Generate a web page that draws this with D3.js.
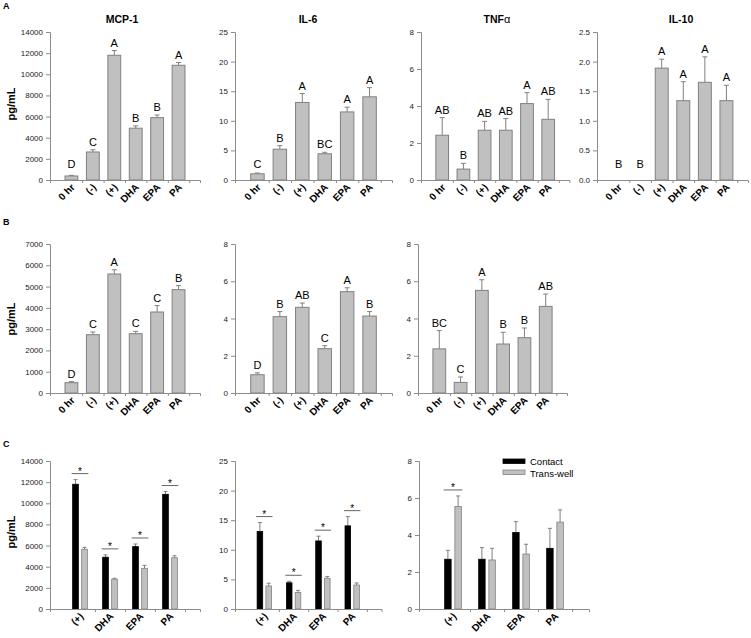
<!DOCTYPE html>
<html><head><meta charset="utf-8">
<script src="https://cdn.jsdelivr.net/npm/d3@7"></script>
<style>
body{margin:0;background:#fff;}
svg{display:block;font-family:"Liberation Sans",Arial,sans-serif;}
</style></head>
<body>
<svg id="c" width="751" height="638"></svg>
<script>
// ---------- DATA ----------
const catsAll = ["0 hr", "(-)", "(+)", "DHA", "EPA", "PA"];
const catsC = ["(+)", "DHA", "EPA", "PA"];

// Row A (Contact)
const mcpA = [380, 2650, 11800, 4900, 5900, 10850];
const mcpAErr = [60, 210, 440, 220, 250, 260];
const mcpALet = ["D", "C", "A", "B", "B", "A"];
const il6A = [1.05, 5.2, 13.1, 4.43, 11.5, 14.05];
const il6AErr = [0.12, 0.6, 1.5, 0.25, 0.8, 1.55];
const il6ALet = ["C", "B", "A", "BC", "A", "A"];
const tnfA = [2.42, 0.59, 2.69, 2.69, 4.13, 3.28];
const tnfAErr = [0.95, 0.31, 0.48, 0.63, 0.59, 1.08];
const tnfALet = ["AB", "B", "AB", "AB", "A", "AB"];
const il10A = [0, 0, 1.89, 1.34, 1.65, 1.34];
const il10AErr = [0, 0, 0.15, 0.32, 0.43, 0.26];
const il10ALet = ["B", "B", "A", "A", "A", "A"];

// Row B (Trans-well)
const mcpB = [485, 2740, 5590, 2787, 3805, 4854];
const mcpBErr = [50, 125, 200, 110, 300, 190];
const mcpBLet = ["D", "C", "A", "C", "C", "B"];
const il6B = [0.98, 4.1, 4.6, 2.38, 5.44, 4.13];
const il6BErr = [0.1, 0.27, 0.23, 0.16, 0.21, 0.24];
const il6BLet = ["D", "B", "AB", "C", "A", "B"];
const tnfB = [2.37, 0.57, 5.51, 2.63, 2.97, 4.65];
const tnfBErr = [0.98, 0.29, 0.57, 0.63, 0.52, 0.66];
const tnfBLet = ["BC", "C", "A", "B", "B", "AB"];

// Row C: Contact vs Trans-well
const mcpCContact = [11800, 4900, 5900, 10850];
const mcpCContactErr = [440, 220, 250, 260];
const mcpCTrans = [5650, 2820, 3850, 4850];
const mcpCTransErr = [180, 90, 280, 190];
const mcpSig = [1, 1, 1, 1];
const il6CContact = [13.1, 4.43, 11.5, 14.05];
const il6CContactErr = [1.5, 0.25, 0.8, 1.55];
const il6CTrans = [3.9, 2.8, 5.2, 4.05];
const il6CTransErr = [0.45, 0.35, 0.3, 0.35];
const il6Sig = [1, 1, 1, 1];
const tnfCContact = [2.69, 2.69, 4.13, 3.28];
const tnfCContactErr = [0.48, 0.63, 0.59, 1.08];
const tnfCTrans = [5.54, 2.65, 2.97, 4.7];
const tnfCTransErr = [0.57, 0.63, 0.53, 0.66];
const tnfSig = [1, 0, 0, 0];

const seriesNames = ["Contact", "Trans-well"];
// ---------- STYLE ----------
const GRAY = "#c0c0c0", GRAYLINE = "#808080", AXIS = "#8c8c8c", BLACK = "#000";

const svg = d3.select("#c");

function yAxis(g, y, x0, max, step, fmt) {
  const ax = d3.axisLeft(y).tickValues(d3.range(0, max + step / 2, step))
    .tickSize(4).tickPadding(3).tickFormat(d3.format(fmt));
  const a = g.append("g").attr("transform", `translate(${x0},0)`).call(ax);
  a.select(".domain").attr("stroke", AXIS);
  a.selectAll(".tick line").attr("stroke", AXIS);
  a.selectAll(".tick text").attr("font-size", 8).attr("fill", "#222")
    .attr("font-family", "Liberation Sans, Arial, sans-serif");
}

function xBase(g, x, bottom, n) {
  const ax = d3.axisBottom(x).tickValues(d3.range(1.5, n + 1, 1)).tickSize(3).tickFormat("");
  const a = g.append("g").attr("transform", `translate(0,${bottom})`).call(ax);
  a.select(".domain").attr("stroke", AXIS);
  a.selectAll(".tick line").attr("stroke", AXIS);
}

function xLabels(g, x, bottom, cats) {
  g.selectAll(null).data(cats).enter().append("text")
    .attr("transform", (d, i) => `translate(${x(i + 1) + 4},${bottom + 8}) rotate(-45)`)
    .attr("text-anchor", "end").attr("font-size", 10).attr("font-weight", "bold")
    .text(d => d);
}

function panelSingle(p) {
  const g = svg.append("g");
  const n = p.cats.length;
  const x = d3.scaleLinear().domain([0, n + 1]).range([p.x0, p.x0 + p.w]);
  const y = d3.scaleLinear().domain([0, p.max]).range([p.bottom, p.top]);
  const step = x(1) - x(0), bw = step * 0.6;
  const data = p.cats.map((c, i) => ({c, i, v: p.vals[i], e: p.errs[i], l: p.lets[i]}));
  const eb = g.selectAll(null).data(data.filter(d => d.v > 0)).enter();
  eb.append("line").attr("x1", d => x(d.i + 1)).attr("x2", d => x(d.i + 1))
    .attr("y1", d => y(d.v)).attr("y2", d => y(d.v + d.e)).attr("stroke", GRAYLINE);
  eb.append("line").attr("x1", d => x(d.i + 1) - 2.5).attr("x2", d => x(d.i + 1) + 2.5)
    .attr("y1", d => y(d.v + d.e)).attr("y2", d => y(d.v + d.e)).attr("stroke", GRAYLINE);
  g.selectAll(null).data(data.filter(d => d.v > 0)).enter().append("rect")
    .attr("x", d => x(d.i + 1) - bw / 2).attr("width", bw)
    .attr("y", d => y(d.v)).attr("height", d => y(0) - y(d.v))
    .attr("fill", GRAY).attr("stroke", GRAYLINE).attr("stroke-width", 1);
  g.selectAll(null).data(data).enter().append("text")
    .attr("x", d => x(d.i + 1)).attr("y", d => Math.min(y(d.v + d.e) - 4, p.bottom - 12))
    .attr("text-anchor", "middle").attr("font-size", 11).text(d => d.l);
  yAxis(g, y, p.x0, p.max, p.step, p.fmt);
  xBase(g, x, p.bottom, n);
  xLabels(g, x, p.bottom, p.cats);
  if (p.title) {
    const t = g.append("text").attr("x", p.tx).attr("y", p.top - 9)
      .attr("text-anchor", "middle").attr("font-size", 10.5).attr("font-weight", "bold");
    t.append("tspan").text(p.title);
    if (p.titleGreek) t.append("tspan").attr("font-weight", "normal").attr("font-size", 11).text(p.titleGreek);
  }
}

function panelPair(p) {
  const g = svg.append("g");
  const n = p.cats.length;
  const x = d3.scaleLinear().domain([0, n + 1]).range([p.x0, p.x0 + p.w]);
  const y = d3.scaleLinear().domain([0, p.max]).range([p.bottom, p.top]);
  const step = x(1) - x(0), bw = step * 0.19, off = step * 0.15;
  const series = [
    {vals: p.a, errs: p.aErr, fill: BLACK, stroke: BLACK, dx: -off},
    {vals: p.b, errs: p.bErr, fill: GRAY, stroke: GRAYLINE, dx: off}
  ];
  series.forEach(s => {
    const data = p.cats.map((c, i) => ({i, v: s.vals[i], e: s.errs[i]}));
    const eb = g.selectAll(null).data(data).enter();
    eb.append("line").attr("x1", d => x(d.i + 1) + s.dx).attr("x2", d => x(d.i + 1) + s.dx)
      .attr("y1", d => y(d.v)).attr("y2", d => y(d.v + d.e)).attr("stroke", GRAYLINE);
    eb.append("line").attr("x1", d => x(d.i + 1) + s.dx - 2).attr("x2", d => x(d.i + 1) + s.dx + 2)
      .attr("y1", d => y(d.v + d.e)).attr("y2", d => y(d.v + d.e)).attr("stroke", GRAYLINE);
    g.selectAll(null).data(data).enter().append("rect")
      .attr("x", d => x(d.i + 1) + s.dx - bw / 2).attr("width", bw)
      .attr("y", d => y(d.v)).attr("height", d => y(0) - y(d.v))
      .attr("fill", s.fill).attr("stroke", s.stroke).attr("stroke-width", 0.8);
  });
  const sig = p.cats.map((c, i) => ({i, s: p.sig[i],
    top: Math.min(y(p.a[i] + p.aErr[i]), y(p.b[i] + p.bErr[i]))})).filter(d => d.s);
  g.selectAll(null).data(sig).enter().append("line")
    .attr("x1", d => x(d.i + 1) - off - bw / 2 - 1).attr("x2", d => x(d.i + 1) + off + bw / 2 + 1)
    .attr("y1", d => d.top - 6).attr("y2", d => d.top - 6).attr("stroke", "#666");
  g.selectAll(null).data(sig).enter().append("text")
    .attr("x", d => x(d.i + 1)).attr("y", d => d.top - 5)
    .attr("text-anchor", "middle").attr("font-size", 10).text("*");
  yAxis(g, y, p.x0, p.max, p.step, p.fmt);
  xBase(g, x, p.bottom, n);
  xLabels(g, x, p.bottom, p.cats);
}

const A = {top: 32, bottom: 180}, B = {top: 244, bottom: 393}, C = {top: 461, bottom: 609};

panelSingle({...A, x0: 50, w: 150, max: 14000, step: 2000, fmt: "d", cats: catsAll,
  vals: mcpA, errs: mcpAErr, lets: mcpALet, title: "MCP-1", tx: 122});
panelSingle({...A, x0: 235, w: 157, max: 25, step: 5, fmt: "d", cats: catsAll,
  vals: il6A, errs: il6AErr, lets: il6ALet, title: "IL-6", tx: 308});
panelSingle({...A, x0: 421, w: 148.4, max: 8, step: 2, fmt: "d", cats: catsAll,
  vals: tnfA, errs: tnfAErr, lets: tnfALet, title: "TNF", titleGreek: "α", tx: 497});
panelSingle({...A, x0: 597, w: 151, max: 2.5, step: 0.5, fmt: ".1f", cats: catsAll,
  vals: il10A, errs: il10AErr, lets: il10ALet, title: "IL-10", tx: 681});

panelSingle({...B, x0: 50, w: 150, max: 7000, step: 1000, fmt: "d", cats: catsAll,
  vals: mcpB, errs: mcpBErr, lets: mcpBLet});
panelSingle({...B, x0: 235, w: 157, max: 8, step: 2, fmt: "d", cats: catsAll,
  vals: il6B, errs: il6BErr, lets: il6BLet});
panelSingle({...B, x0: 418, w: 149, max: 8, step: 2, fmt: "d", cats: catsAll,
  vals: tnfB, errs: tnfBErr, lets: tnfBLet});

panelPair({...C, x0: 50, w: 150, max: 14000, step: 2000, fmt: "d", cats: catsC,
  a: mcpCContact, aErr: mcpCContactErr, b: mcpCTrans, bErr: mcpCTransErr, sig: mcpSig});
panelPair({...C, x0: 235, w: 146.5, max: 25, step: 5, fmt: "d", cats: catsC,
  a: il6CContact, aErr: il6CContactErr, b: il6CTrans, bErr: il6CTransErr, sig: il6Sig});
panelPair({...C, x0: 419, w: 170, max: 8, step: 2, fmt: "d", cats: catsC,
  a: tnfCContact, aErr: tnfCContactErr, b: tnfCTrans, bErr: tnfCTransErr, sig: tnfSig});

// legend
const lg = svg.append("g");
lg.selectAll(null).data(seriesNames).enter().append("rect")
  .attr("x", 503).attr("y", (d, i) => 459 + i * 11).attr("width", 22).attr("height", 4.5)
  .attr("fill", (d, i) => i ? GRAY : BLACK).attr("stroke", (d, i) => i ? GRAYLINE : BLACK).attr("stroke-width", 0.8);
lg.selectAll(null).data(seriesNames).enter().append("text")
  .attr("x", 530).attr("y", (d, i) => 465 + i * 11.5).attr("font-size", 9.5).text(d => d);

// y labels
[104, 319, 532].forEach(cy => {
  svg.append("text").attr("transform", `translate(15,${cy}) rotate(-90)`)
    .attr("text-anchor", "middle").attr("font-size", 11).attr("font-weight", "bold").text("pg/mL");
});
// panel letters
[["A", 9], ["B", 225], ["C", 447]].forEach(([t, yy]) => {
  svg.append("text").attr("x", 3).attr("y", yy).attr("font-size", 9).attr("font-weight", "bold").text(t);
});
</script>
</body></html>
